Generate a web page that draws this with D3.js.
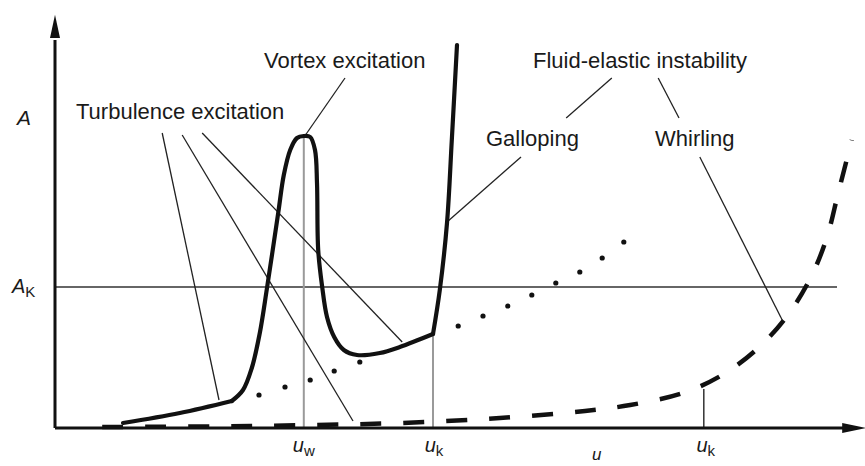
<!DOCTYPE html>
<html><head><meta charset="utf-8">
<script src="https://cdn.jsdelivr.net/npm/d3@7"></script>
<style>html,body{margin:0;padding:0;background:#fff;}svg{display:block;}</style>
</head><body>
<script>
// ---- data (u = flow velocity units, A = amplitude units) ----
const turbU = [8.5, 15.6, 22.1];
const turbA = [1.25, 3.75, 6.75];
const vortexU = [22.1, 23.5, 24.6, 25.6, 26.5, 27.9, 28.6, 29.4, 30.25, 31.1, 31.9, 32.5, 32.75, 32.9, 33.4, 34.0, 34.9, 36.1, 37.75, 40.6, 43.1, 47.25];
const vortexA = [6.75, 9.5, 15, 23.75, 35, 53.75, 63.25, 69.5, 72.5, 73, 72.75, 69.5, 61.25, 44.5, 35.25, 27.75, 22.75, 19.5, 18.25, 18.75, 20.25, 23.5];
const gallopU = [47.25, 48.1, 49.0, 49.6, 50.25];
const gallopA = [23.5, 34.5, 51.25, 72, 95.75];
const dotU = [25.5, 28.75, 31.9, 34.9, 38.1, 50.4, 53.5, 56.6, 59.6, 62.6, 65.6, 68.4, 71.1];
const dotA = [8.25, 10.25, 12, 14.25, 16.5, 25.5, 28, 30.5, 33.25, 36.25, 39, 42.5, 46.5];
const whirlU = [5.9, 24.4, 43.1, 55.6, 66.25, 71.9, 78.5, 83.4, 87.9, 91.6, 94.5, 96.5, 97.9, 99.6];
const whirlA = [0.25, 0.5, 1.25, 2.5, 4.25, 5.75, 8.75, 13.25, 20, 28.25, 37.75, 47.75, 58.75, 72];
const uW = 31.1, uWpeak = 73;
const uK1 = 47.25, uK1A = 23.5;
const uK2 = 81.1, uK2A = 9.75;
const AK = 35.25;
const labels = ["Turbulence excitation", "Vortex excitation", "Fluid-elastic instability", "Galloping", "Whirling"];
// leader lines [u1, A1, u2, A2]
const leaders = [
  [13.4, 73.75, 20.5, 7],
  [15.9, 73.25, 37.25, 1.75],
  [18.4, 73.75, 43.4, 21.5],
  [36.25, 87.5, 31.4, 73.5],
  [58.25, 67.75, 49.0, 51.5],
  [69.6, 87.5, 63.9, 77.5],
  [75.4, 87.5, 78.0, 77.5],
  [80.6, 67.75, 90.9, 27]
];

const W = 865, H = 466;
const x = d3.scaleLinear().domain([0, 100]).range([55, 855]);
const y = d3.scaleLinear().domain([0, 100]).range([428, 28]);

const svg = d3.select("body").append("svg").attr("width", W).attr("height", H)
  .style("font-family", "'Liberation Sans', Arial, Helvetica, sans-serif");
svg.append("rect").attr("width", W).attr("height", H).attr("fill", "#fff");

const zip = (us, as) => us.map((u, i) => [u, as[i]]);
const line = d3.line().x(d => x(d[0])).y(d => y(d[1])).curve(d3.curveCatmullRom.alpha(0.5));

// A_K line
svg.append("line").attr("x1", x(0)).attr("x2", x(97.75)).attr("y1", y(AK)).attr("y2", y(AK))
  .attr("stroke", "#333").attr("stroke-width", 1.5);

// vertical markers
svg.append("line").attr("x1", x(uW)).attr("x2", x(uW)).attr("y1", y(0)).attr("y2", y(uWpeak))
  .attr("stroke", "#9a9a9a").attr("stroke-width", 2);
svg.append("line").attr("x1", x(uK1)).attr("x2", x(uK1)).attr("y1", y(0)).attr("y2", y(uK1A))
  .attr("stroke", "#9a9a9a").attr("stroke-width", 2);
svg.append("line").attr("x1", x(uK2)).attr("x2", x(uK2)).attr("y1", y(0)).attr("y2", y(uK2A))
  .attr("stroke", "#333").attr("stroke-width", 1.5);

// leader lines
svg.selectAll("line.leader").data(leaders).enter().append("line").attr("class", "leader")
  .attr("x1", d => x(d[0])).attr("y1", d => y(d[1])).attr("x2", d => x(d[2])).attr("y2", d => y(d[3]))
  .attr("stroke", "#222").attr("stroke-width", 1.3);

// dashed whirling curve
svg.append("path").attr("d", line(zip(whirlU, whirlA))).attr("fill", "none")
  .attr("stroke", "#111").attr("stroke-width", 4.5).attr("stroke-dasharray", "21,22");

// dotted curve
svg.selectAll("circle.dot").data(zip(dotU, dotA)).enter().append("circle").attr("class", "dot")
  .attr("cx", d => x(d[0])).attr("cy", d => y(d[1])).attr("r", 2.6).attr("fill", "#111");

// thick solid curves
[zip(turbU, turbA), zip(vortexU, vortexA), zip(gallopU, gallopA)].forEach(seg => {
  svg.append("path").attr("d", line(seg)).attr("fill", "none")
    .attr("stroke", "#111").attr("stroke-width", 4.2).attr("stroke-linejoin", "round").attr("stroke-linecap", "round");
});

// axes
svg.append("line").attr("x1", x(0)).attr("x2", x(98.5)).attr("y1", y(0)).attr("y2", y(0))
  .attr("stroke", "#111").attr("stroke-width", 3);
svg.append("line").attr("x1", x(0)).attr("x2", x(0)).attr("y1", y(0)).attr("y2", y(97))
  .attr("stroke", "#111").attr("stroke-width", 3);
// arrowheads
svg.append("path").attr("d", `M${x(0)},${y(103.3)} L${x(0) - 5},${y(97.5)} L${x(0) + 5},${y(97.5)} Z`).attr("fill", "#111");
svg.append("path").attr("d", `M${x(101.4)},${y(0)} L${x(98.4)},${y(0) - 5} L${x(98.4)},${y(0) + 5} Z`).attr("fill", "#111");

// annotation labels
const txt = (s, px, py) => svg.append("text").attr("x", px).attr("y", py).attr("font-size", 22)
  .attr("fill", "#1a1a1a").text(s);
txt(labels[0], 76, 119);
txt(labels[1], 264, 68);
txt(labels[2], 533, 68);
txt(labels[3], 486, 146);
txt(labels[4], 655, 146);

// axis labels
const sub = (main, s, px, py, anchor) => {
  const t = svg.append("text").attr("x", px).attr("y", py).attr("fill", "#1a1a1a").attr("text-anchor", anchor || "middle");
  t.append("tspan").attr("font-size", 20).attr("font-style", "italic").text(main);
  t.append("tspan").attr("font-size", 15).attr("dy", 4).text(s);
  return t;
};
svg.append("text").attr("x", 17).attr("y", 125).attr("font-size", 21).attr("font-style", "italic").attr("fill", "#1a1a1a").text("A");
sub("A", "K", 12, 293, "start");
sub("u", "w", x(uW), 452);
sub("u", "k", x(uK1) + 1, 452);
sub("u", "k", x(uK2) + 2, 452);
svg.append("text").attr("x", 592).attr("y", 460).attr("font-size", 17).attr("font-style", "italic").attr("fill", "#1a1a1a").text("u");
</script>
</body></html>
